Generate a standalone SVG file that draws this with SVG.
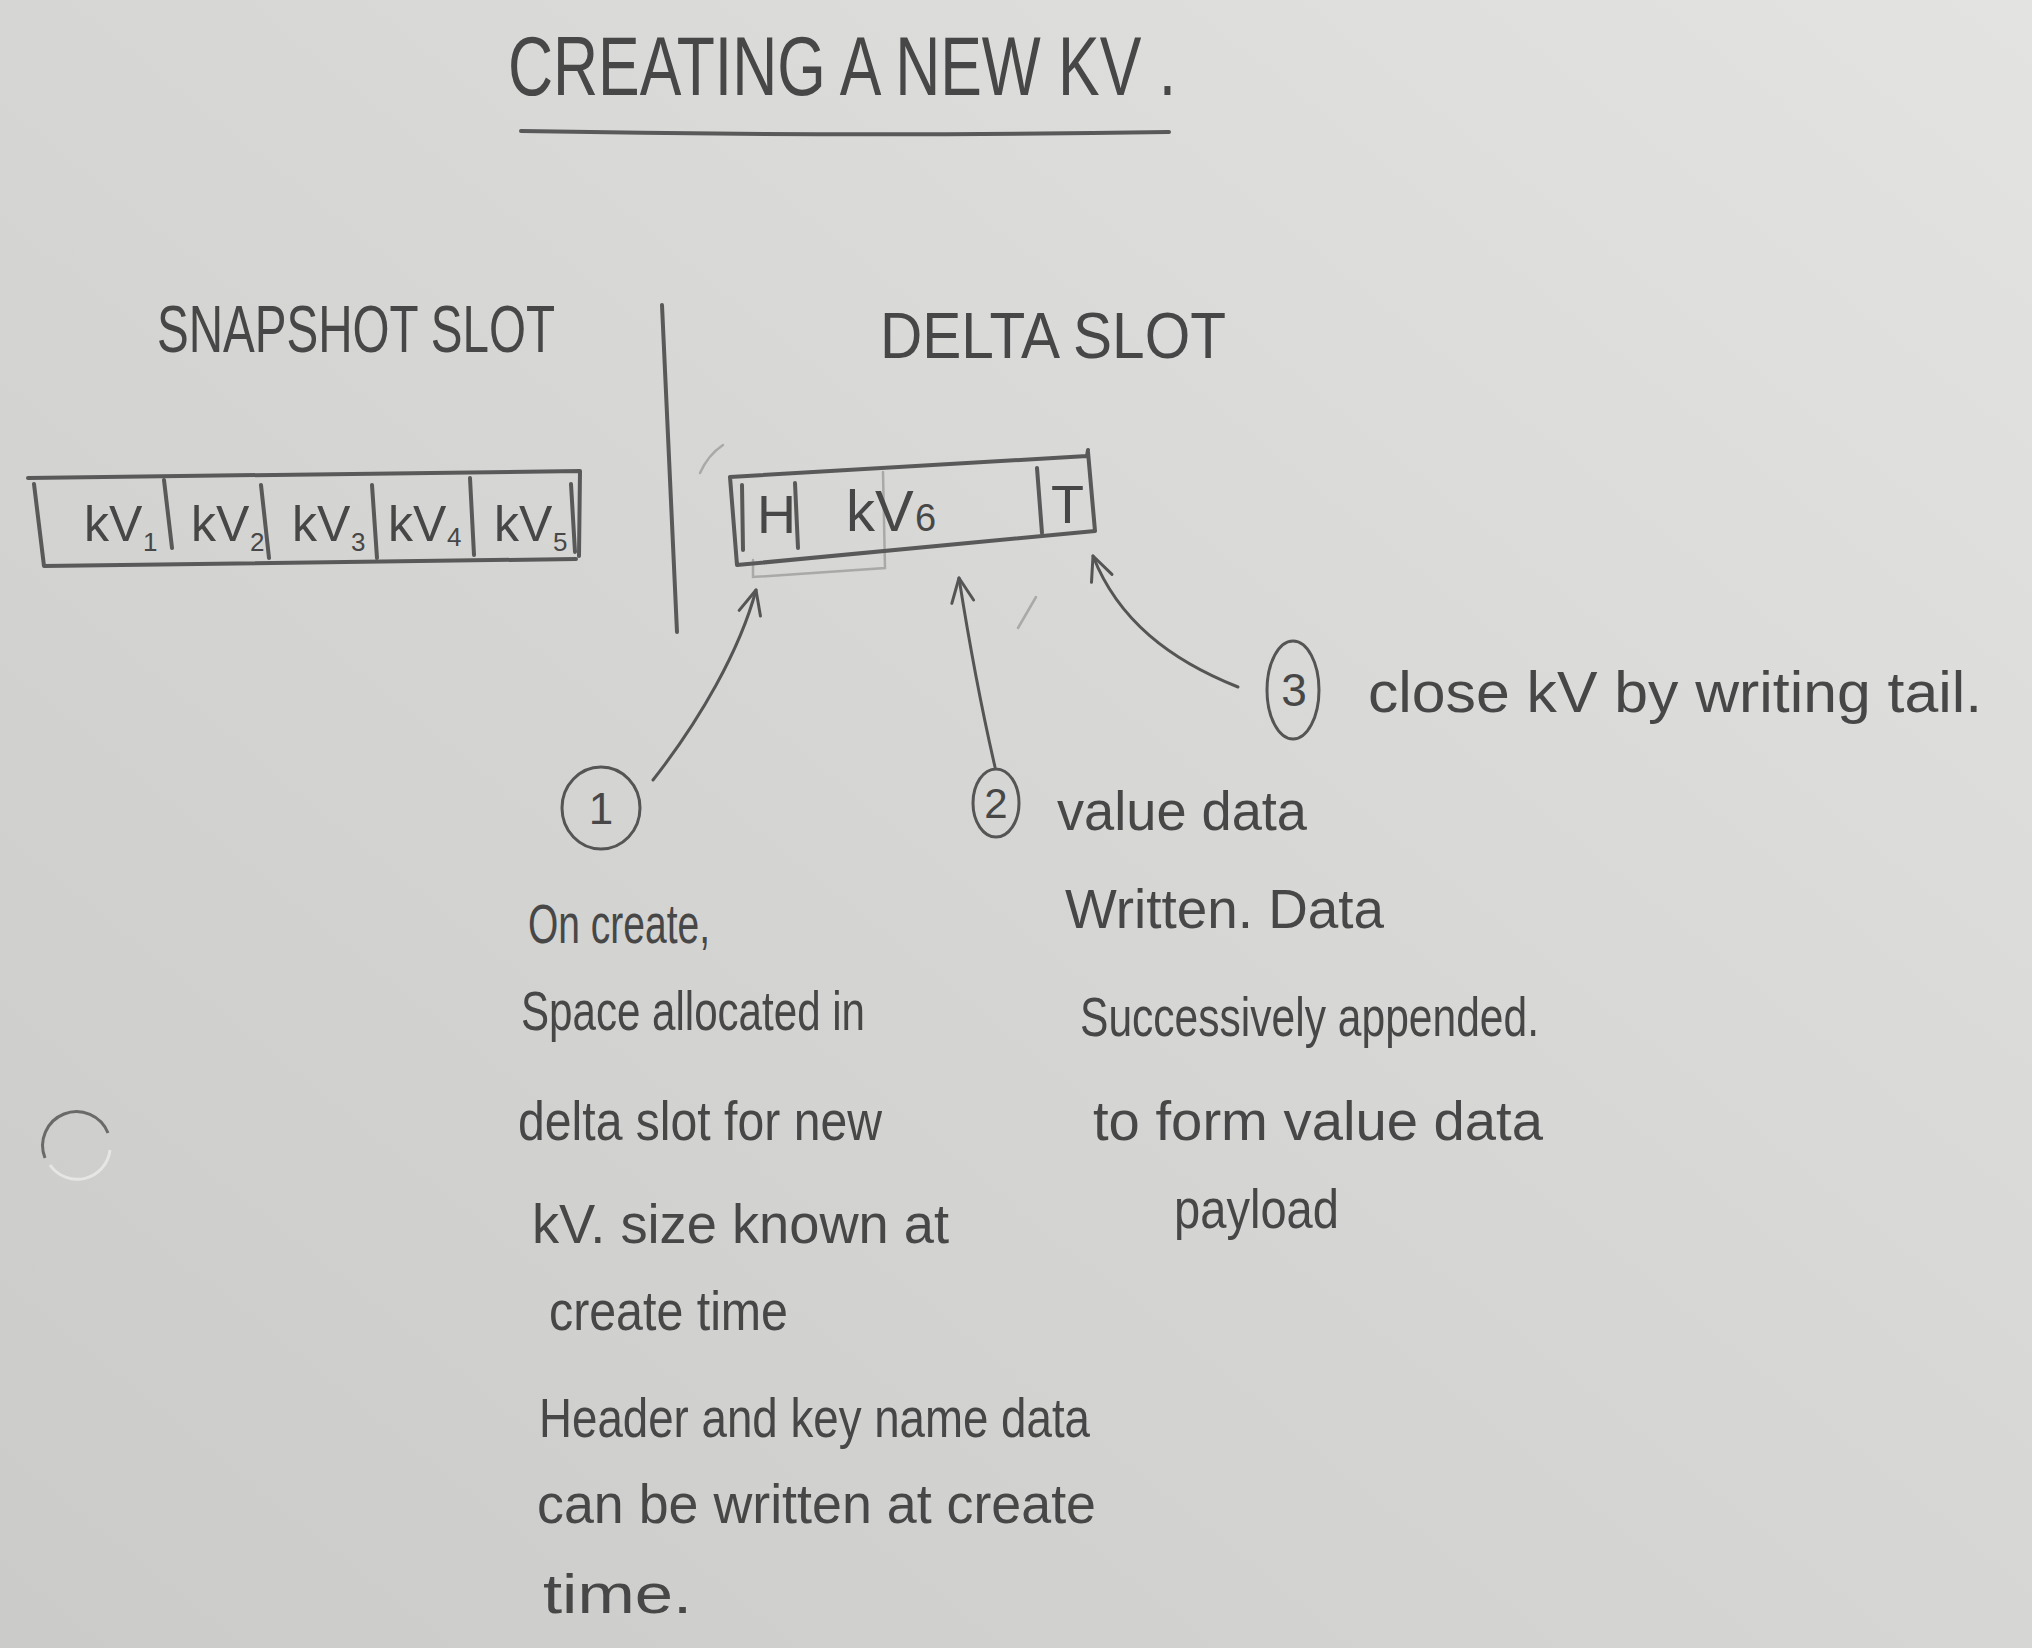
<svg xmlns="http://www.w3.org/2000/svg" width="2032" height="1648" viewBox="0 0 2032 1648">
  <defs>
    <linearGradient id="paper" x1="1" y1="0" x2="0" y2="1">
      <stop offset="0" stop-color="#e3e3e1"/>
      <stop offset="0.5" stop-color="#d6d6d4"/>
      <stop offset="1" stop-color="#cbcbc9"/>
    </linearGradient>
    <marker id="arrow" viewBox="0 0 30 30" refX="27" refY="15" markerWidth="30" markerHeight="30" markerUnits="userSpaceOnUse" orient="auto">
      <path d="M3,4 L27,15 L3,26" fill="none" stroke="#555" stroke-width="3" stroke-linecap="round" stroke-linejoin="round"/>
    </marker>
    <style>
      .t { font-family: "Liberation Sans", Arial, sans-serif; fill: #474747; }
      .kv { font-family: "Liberation Sans", Arial, sans-serif; fill: #474747; font-size: 50px; }
      .sub { font-family: "Liberation Sans", Arial, sans-serif; fill: #474747; font-size: 26px; }
      .ln { fill: none; stroke: #595959; stroke-width: 4; stroke-linecap: round; stroke-linejoin: round; }
      .faint { fill: none; stroke: #a9a9a7; stroke-width: 2.5; stroke-linecap: round; }
      .arr { fill: none; stroke: #555; stroke-width: 3; stroke-linecap: round; marker-end: url(#arrow); }
      .circ { fill: none; stroke: #555; stroke-width: 3; }
    </style>
  </defs>

  <rect x="0" y="0" width="2032" height="1648" fill="url(#paper)"/>

  <g id="hole-punch">
    <path d="M45,1158 A33,33 0 0 1 108,1133" fill="none" stroke="#6a6a68" stroke-width="3"/>
    <path d="M50,1165 A33,33 0 0 0 110,1150" fill="none" stroke="#e6e6e4" stroke-width="3"/>
  </g>

  <g id="title">
    <text class="t" x="508" y="95" font-size="84" textLength="668" lengthAdjust="spacingAndGlyphs">CREATING A NEW KV .</text>
    <path class="ln" d="M521,131 Q845,137 1169,132" stroke-width="4"/>
  </g>

  <g id="snapshot-label">
    <text class="t" x="157" y="352" font-size="66" textLength="398" lengthAdjust="spacingAndGlyphs">SNAPSHOT SLOT</text>
  </g>

  <g id="delta-label">
    <text class="t" x="880" y="358" font-size="64" textLength="346" lengthAdjust="spacingAndGlyphs">DELTA SLOT</text>
  </g>

  <g id="divider">
    <path class="ln" d="M662,305 L677,632" stroke-width="3.5"/>
  </g>

  <g id="snapshot-slot">
    <path class="ln" d="M28,478 L580,471 L579,556 M34,484 L44,566 L576,559 M571,484 L575,552"/>
    <path class="ln" d="M164,480 L172,548 M261,485 L269,558 M372,485 L377,558 M470,478 L474,555"/>
    <text class="kv" x="84" y="541">kV</text>
    <text class="sub" x="143" y="551">1</text>
    <text class="kv" x="191" y="541">kV</text>
    <text class="sub" x="250" y="551">2</text>
    <text class="kv" x="292" y="541">kV</text>
    <text class="sub" x="351" y="551">3</text>
    <text class="kv" x="388" y="541">kV</text>
    <text class="sub" x="447" y="546">4</text>
    <text class="kv" x="494" y="541">kV</text>
    <text class="sub" x="553" y="551">5</text>
  </g>

  <g id="delta-slot">
    <path class="faint" d="M883,472 L885,568 L753,577 L753,560"/>
    <path class="faint" d="M700,473 Q708,455 723,445"/>
    <path class="ln" d="M730,477 L1087,456 L1088,450 M1088,452 L1095,531 L737,565 L730,477"/>
    <path class="ln" d="M742,485 L743,550 M795,483 L798,548 M1037,468 L1042,533"/>
    <text class="t" x="757" y="533" font-size="54">H</text>
    <text class="t" x="846" y="531" font-size="58">kV</text>
    <text class="t" x="915" y="531" font-size="38">6</text>
    <text class="t" x="1051" y="523" font-size="54">T</text>
  </g>

  <g id="connectors">
    <path class="arr" d="M653,780 C700,720 740,650 756,590"/>
    <path class="arr" d="M995,767 Q975,680 959,578"/>
    <path class="arr" d="M1238,687 C1170,660 1118,620 1093,556"/>
    <path class="faint" d="M1036,597 L1018,628"/>
  </g>

  <g id="step1">
    <ellipse class="circ" cx="601" cy="808" rx="39" ry="41"/>
    <text class="t" x="601" y="824" font-size="44" text-anchor="middle">1</text>
  </g>

  <g id="step2">
    <ellipse class="circ" cx="996" cy="803" rx="23" ry="34"/>
    <text class="t" x="996" y="818" font-size="42" text-anchor="middle">2</text>
  </g>

  <g id="step3">
    <ellipse class="circ" cx="1293" cy="690" rx="26" ry="49"/>
    <text class="t" x="1294" y="706" font-size="46" text-anchor="middle">3</text>
    <text class="t" x="1368" y="712" font-size="58" textLength="614" lengthAdjust="spacingAndGlyphs">close kV by writing tail.</text>
  </g>

  <g id="note1">
    <text class="t" x="528" y="943" font-size="56" textLength="182" lengthAdjust="spacingAndGlyphs">On create,</text>
    <text class="t" x="521" y="1030" font-size="56" textLength="344" lengthAdjust="spacingAndGlyphs">Space allocated in</text>
    <text class="t" x="518" y="1140" font-size="56" textLength="364" lengthAdjust="spacingAndGlyphs">delta slot for new</text>
    <text class="t" x="532" y="1243" font-size="56" textLength="417" lengthAdjust="spacingAndGlyphs">kV. size known at</text>
    <text class="t" x="549" y="1330" font-size="56" textLength="239" lengthAdjust="spacingAndGlyphs">create time</text>
    <text class="t" x="539" y="1437" font-size="56" textLength="551" lengthAdjust="spacingAndGlyphs">Header and key name data</text>
    <text class="t" x="537" y="1523" font-size="56" textLength="559" lengthAdjust="spacingAndGlyphs">can be written at create</text>
    <text class="t" x="543" y="1613" font-size="56" textLength="149" lengthAdjust="spacingAndGlyphs">time.</text>
  </g>

  <g id="note2">
    <text class="t" x="1057" y="830" font-size="56" textLength="250" lengthAdjust="spacingAndGlyphs">value data</text>
    <text class="t" x="1065" y="928" font-size="56" textLength="319" lengthAdjust="spacingAndGlyphs">Written. Data</text>
    <text class="t" x="1080" y="1036" font-size="56" textLength="459" lengthAdjust="spacingAndGlyphs">Successively appended.</text>
    <text class="t" x="1093" y="1140" font-size="56" textLength="450" lengthAdjust="spacingAndGlyphs">to form value data</text>
    <text class="t" x="1174" y="1228" font-size="56" textLength="165" lengthAdjust="spacingAndGlyphs">payload</text>
  </g>
</svg>
